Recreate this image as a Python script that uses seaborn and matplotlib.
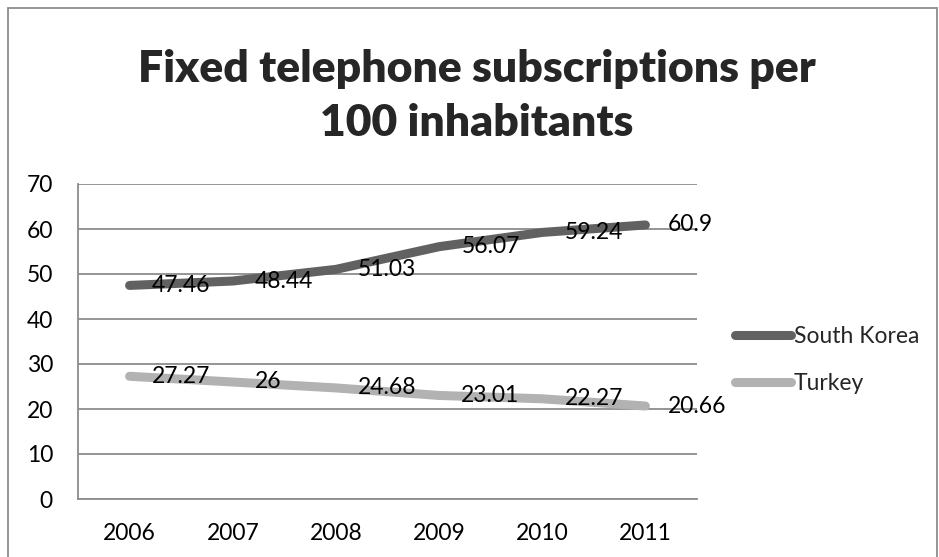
import matplotlib
matplotlib.use("Agg")
import matplotlib.pyplot as plt
from matplotlib.lines import Line2D
from matplotlib.patches import Rectangle
import numpy as np
import pandas as pd
import seaborn as sns

years = ["2006", "2007", "2008", "2009", "2010", "2011"]
south_korea = [47.46, 48.44, 51.03, 56.07, 59.24, 60.9]
turkey = [27.27, 26, 24.68, 23.01, 22.27, 20.66]
series_names = ["South Korea", "Turkey"]
series_colors = ["#616161", "#b2b2b2"]
y_ticks = [0, 10, 20, 30, 40, 50, 60, 70]
title = "Fixed telephone subscriptions per\n100 inhabitants"

sns.set_theme(style="white")
plt.rcParams["font.family"] = ["Lato", "DejaVu Sans"]

LABEL_SIZE = 16.5
LEGEND_SIZE = 16.5

pos = np.arange(len(years)) + 0.5
df = pd.DataFrame({
    "pos": np.concatenate([pos, pos]),
    "value": south_korea + turkey,
    "series": [series_names[0]] * len(years) + [series_names[1]] * len(years),
})

fig = plt.figure(figsize=(9.39, 5.57), dpi=100)
fig.patch.set_facecolor("white")
fig.add_artist(Rectangle((8 / 939, -0.05), 929 / 939, 1 - 8 / 557 + 0.05,
                         transform=fig.transFigure, fill=False,
                         edgecolor="#8c8c8c", linewidth=1.3))

ax = fig.add_axes([78 / 939, 1 - 499 / 557, (697 - 78) / 939, (499 - 184) / 557])
sns.lineplot(data=df, x="pos", y="value", hue="series", palette=series_colors,
             hue_order=series_names, linewidth=6.5, legend=False, ax=ax, zorder=3)
for ln in ax.get_lines():
    ln.set_solid_capstyle("round")
    ln.set_solid_joinstyle("round")

ax.set_xlim(0, len(years))
ax.set_ylim(0, 70)
ax.set_yticks(y_ticks)
ax.set_yticklabels([str(t) for t in y_ticks])
ax.set_xticks(pos)
ax.set_xticklabels(years)
ax.tick_params(axis="both", length=0, labelsize=LABEL_SIZE, colors="black")
ax.tick_params(axis="y", pad=18)
ax.tick_params(axis="x", pad=17)
ax.set_xlabel("")
ax.set_ylabel("")
ax.yaxis.grid(True, color="#8c8c8c", linewidth=1.3)
ax.set_axisbelow(True)
for side in ["top", "right"]:
    ax.spines[side].set_visible(False)
for side in ["left", "bottom"]:
    ax.spines[side].set_color("#8c8c8c")
    ax.spines[side].set_linewidth(1.3)

for vals in (south_korea, turkey):
    for x, v in zip(pos, vals):
        ax.annotate(f"{v:g}", (x, v), xytext=(16, 0), textcoords="offset points",
                    ha="left", va="center", fontsize=LABEL_SIZE, color="black", zorder=5)

fig.text(477 / 939, 1 - 96 / 557, title, ha="center", va="center",
         fontsize=32, fontweight="heavy", linespacing=1.45)

handles = [Line2D([], [], color=c, linewidth=6.5, solid_capstyle="round") for c in series_colors]
fig.legend(handles, series_names, loc="center left",
           bbox_to_anchor=(735 / 939, 1 - 360 / 557), frameon=False,
           borderpad=0, borderaxespad=0,
           fontsize=LEGEND_SIZE, handlelength=2.45, handletextpad=0.12, labelspacing=1.15)

fig.savefig("out.png", dpi=100)
